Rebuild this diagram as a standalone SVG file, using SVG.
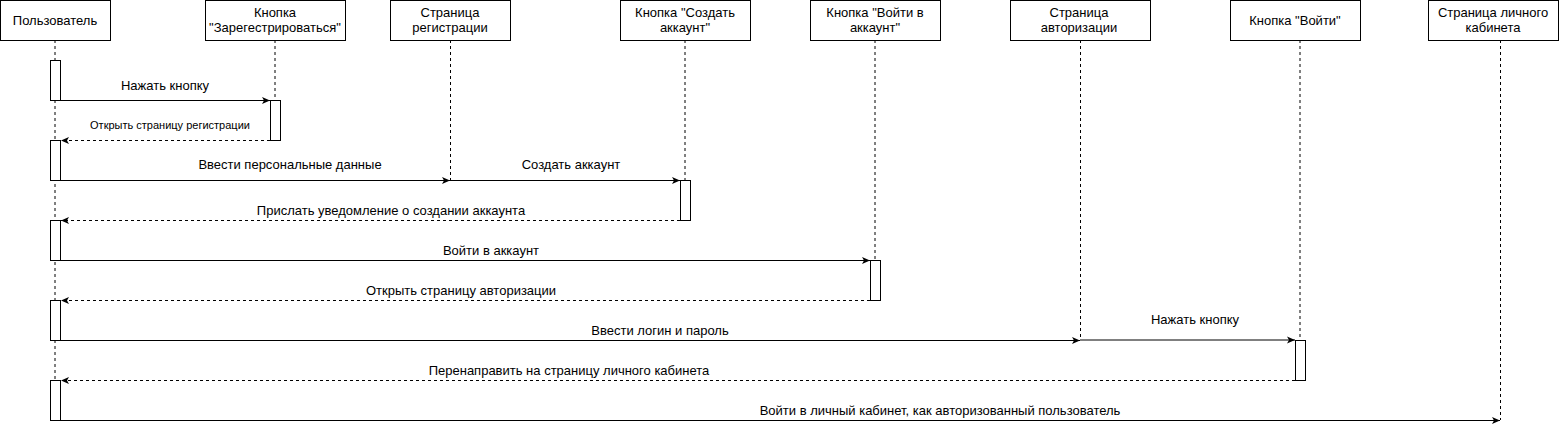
<svg xmlns="http://www.w3.org/2000/svg" width="1559" height="430" viewBox="0 0 1559 430">
<style>
.box{fill:#fff;stroke:#000;stroke-width:1}
.act{fill:#fff;stroke:#000;stroke-width:1}
.life{stroke:#000;stroke-width:1;stroke-dasharray:3 3;fill:none}
.t{font-family:"Liberation Sans",Arial,sans-serif;font-size:13px;fill:#000;text-anchor:middle}
.s{font-size:11px}
.msg{stroke:#000;stroke-width:1;fill:none;marker-end:url(#arr)}
.ret{stroke:#000;stroke-width:1;fill:none;stroke-dasharray:3 3;marker-end:url(#arr)}
</style>
<defs>
<marker id="arr" markerWidth="10" markerHeight="8" refX="8" refY="4" orient="auto" markerUnits="userSpaceOnUse">
<path d="M0,0.5 L8,4 L0,7.5 L2,4 z" fill="#000"/>
</marker>
</defs>
<rect width="1559" height="430" fill="#fff"/>

<g id="lifelines">
<line class="life" x1="55" y1="40" x2="55" y2="420"/>
<line class="life" x1="275" y1="40" x2="275" y2="100"/>
<line class="life" x1="450.5" y1="40" x2="450.5" y2="180"/>
<line class="life" x1="685" y1="40" x2="685" y2="180"/>
<line class="life" x1="875" y1="40" x2="875" y2="260"/>
<line class="life" x1="1080.5" y1="40" x2="1080.5" y2="340"/>
<line class="life" x1="1300" y1="40" x2="1300" y2="340"/>
<line class="life" x1="1500.5" y1="40" x2="1500.5" y2="420"/>
</g>

<g id="n-user">
<rect class="box" x="0.5" y="0.5" width="110" height="40"/>
<text class="t" x="55" y="25">Пользователь</text>
<rect class="act" x="50.5" y="60.5" width="10" height="40"/>
<rect class="act" x="50.5" y="140.5" width="10" height="40"/>
<rect class="act" x="50.5" y="220.5" width="10" height="40"/>
<rect class="act" x="50.5" y="300.5" width="10" height="40"/>
<rect class="act" x="50.5" y="380.5" width="10" height="40"/>
</g>
<g id="n-btn-reg">
<rect class="box" x="205.5" y="0.5" width="140" height="40"/>
<text class="t" x="275" y="17">Кнопка</text>
<text class="t" x="275" y="32">"Зарегестрироваться"</text>
<rect class="act" x="270.5" y="100.5" width="10" height="40"/>
</g>
<g id="n-page-reg">
<rect class="box" x="390.5" y="0.5" width="120" height="40"/>
<text class="t" x="450" y="17">Страница</text>
<text class="t" x="450" y="32">регистрации</text>
</g>
<g id="n-btn-create">
<rect class="box" x="620.5" y="0.5" width="130" height="40"/>
<text class="t" x="685" y="17">Кнопка "Создать</text>
<text class="t" x="685" y="32">аккаунт"</text>
<rect class="act" x="680.5" y="180.5" width="10" height="40"/>
</g>
<g id="n-btn-login-acc">
<rect class="box" x="810.5" y="0.5" width="130" height="40"/>
<text class="t" x="875" y="17">Кнопка "Войти в</text>
<text class="t" x="875" y="32">аккаунт"</text>
<rect class="act" x="870.5" y="260.5" width="10" height="40"/>
</g>
<g id="n-page-auth">
<rect class="box" x="1010.5" y="0.5" width="140" height="40"/>
<text class="t" x="1079" y="17">Страница</text>
<text class="t" x="1079" y="32">авторизации</text>
</g>
<g id="n-btn-login">
<rect class="box" x="1230.5" y="0.5" width="130" height="40"/>
<text class="t" x="1295" y="25">Кнопка "Войти"</text>
<rect class="act" x="1295.5" y="340.5" width="10" height="40"/>
</g>
<g id="n-page-cab">
<rect class="box" x="1428.5" y="0.5" width="130" height="40"/>
<text class="t" x="1493" y="17">Страница личного</text>
<text class="t" x="1493" y="32">кабинета</text>
</g>

<g id="connectors">
<line class="msg" x1="60" y1="100.5" x2="270" y2="100.5"/>
<text class="t" x="165" y="90">Нажать кнопку</text>
<line class="ret" x1="270" y1="140.5" x2="61" y2="140.5"/>
<text class="t s" x="170" y="129">Открыть страницу регистрации</text>
<line class="msg" x1="60" y1="180.5" x2="450" y2="180.5"/>
<text class="t" x="290" y="169">Ввести персональные данные</text>
<line class="msg" x1="450" y1="180.5" x2="680" y2="180.5"/>
<text class="t" x="571" y="169">Создать аккаунт</text>
<line class="ret" x1="680" y1="220.5" x2="61" y2="220.5"/>
<text class="t" x="391" y="215">Прислать уведомление о создании аккаунта</text>
<line class="msg" x1="60" y1="260.5" x2="870" y2="260.5"/>
<text class="t" x="491" y="255">Войти в аккаунт</text>
<line class="ret" x1="870" y1="300.5" x2="61" y2="300.5"/>
<text class="t" x="461" y="295">Открыть страницу авторизации</text>
<line class="msg" x1="60" y1="340.5" x2="1080" y2="340.5"/>
<text class="t" x="660" y="335">Ввести логин и пароль</text>
<line class="msg" x1="1080" y1="340" x2="1295" y2="340"/>
<text class="t" x="1195" y="324">Нажать кнопку</text>
<line class="ret" x1="1295" y1="380.5" x2="61" y2="380.5"/>
<text class="t" x="569" y="375">Перенаправить на страницу личного кабинета</text>
<line class="msg" x1="60" y1="420.5" x2="1500" y2="420.5"/>
<text class="t" x="940" y="415">Войти в личный кабинет, как авторизованный пользователь</text>
</g>
</svg>
